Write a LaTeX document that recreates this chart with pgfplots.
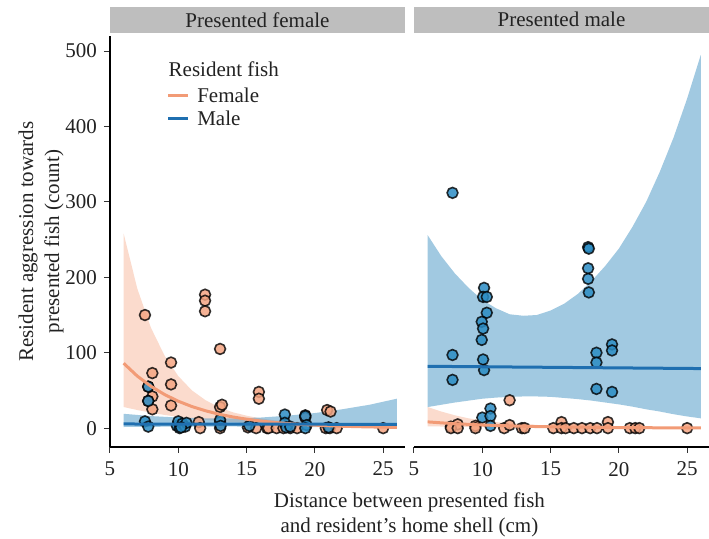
\documentclass[border=0pt]{standalone}
\usepackage{fontspec}
\setmainfont{Liberation Serif}
\usepackage{pgfplots}
\pgfplotsset{compat=1.18}
\definecolor{fem}{HTML}{F4A582}
\definecolor{femline}{HTML}{F29B76}
\definecolor{mal}{HTML}{1F6FB0}
\definecolor{malband}{HTML}{4393C3}
\definecolor{malpt}{HTML}{2B8CC4}
\definecolor{stripgrey}{HTML}{BEBEBE}
\definecolor{txt}{HTML}{222222}

\pgfplotsset{panel/.style={
  scale only axis, width=147.5pt, height=205.5pt,
  xmin=5, xmax=26.6, ymin=-25, ymax=520,
  clip mode=individual,
  xtick={5,10,15,20,25}, ytick={0,100,200,300,400,500},
  tick align=outside, major tick length=3pt,
  tick style={black!80, line width=0.5pt},
  /pgf/number format/assume math mode=true,
  tick label style={font=\fontsize{10.5}{12}\selectfont, text=txt},
  axis line style={line width=1pt, black},
  xticklabel style={yshift=-1pt},
},
fpts/.style={only marks, mark=*, mark size=2.7pt, forget plot,
  mark options={draw=black, draw opacity=0.8, fill=fem, fill opacity=0.85, line width=0.8pt}},
mpts/.style={only marks, mark=*, mark size=2.7pt, forget plot,
  mark options={draw=black, draw opacity=0.8, fill=malpt, fill opacity=0.85, line width=0.8pt}},
fband/.style={fill=fem, fill opacity=0.4, draw=none, forget plot},
mband/.style={fill=malband, fill opacity=0.5, draw=none, forget plot},
fline/.style={femline, line width=1.5pt, forget plot, no marks},
mline/.style={mal, line width=1.5pt, forget plot, no marks},
}

\begin{document}
\begin{tikzpicture}
\path[use as bounding box] (-55pt,-46pt) rectangle (299.5pt,223.5pt);

% ---------------- Presented female ----------------
\begin{axis}[panel, at={(0pt,0pt)}, anchor=south west,
  axis x line*=bottom, axis y line*=left,
  ylabel={Resident aggression towards\\presented fish (count)},
  ylabel style={at={(axis description cs:-0.234,0.5)}, anchor=center, align=center,
    font=\fontsize{10.5}{13}\selectfont, text=txt},
]
% female band
\addplot[fband] coordinates {
(6,258) (7,185) (8,133) (9,96) (10,69) (11,50) (12,37) (13,27.5) (14,21) (15,16.5) (16,13)
(17,10.5) (18,8.5) (19,7) (20,5.8) (21,4.8) (22,4) (23,3.3) (24,2.8) (25,2.3) (26,2.0)
(26,0.8) (25,1.0) (24,1.2) (23,1.5) (22,1.8) (21,2.2) (20,2.7) (19,3.3) (18,4) (17,4.8)
(16,5.7) (15,6.8) (14,8) (13,9.4) (12,11) (11,12.8) (10,15) (9,17.5) (8,20.5) (7,24) (6,28)};
% male band
\addplot[mband] coordinates {
(6,19) (8,16) (10,14) (12,13) (14,13) (16,14) (18,16.5) (20,20) (22,25) (24,31) (26,39)
(26,0.6) (22,1.0) (18,1.8) (14,2.2) (10,2) (6,1.5)};
% female points
\addplot[fpts] table {
x y
7.56 150
11.96 177
11.96 169
11.96 155
13.06 105
9.47 87
8.1 73
9.47 58
7.8 55
8.1 42
7.8 36
9.47 30
8.1 25
13.06 28
13.2 31
15.9 48
15.9 39
20.9 24
21.15 22
19.3 17
19.3 14
11.5 8
11.6 0
13.06 8
13.06 0
15.1 1
15.7 0
16.5 0
16.6 0
17.2 0
17.7 0
18.2 0
18.7 0
20.8 0
21.1 0
21.6 0
25.0 0
};
% male points
\addplot[mpts] table {
x y
7.56 9
7.8 2
7.8 55
7.8 36
9.9 3
10.0 9
10.1 0
10.3 6
10.5 2
10.6 7
10.2 1
13.06 11
13.1 3
15.2 3
17.8 18
17.8 7
17.9 1
18.2 2
19.3 16
19.4 4
19.3 0
21.0 1
};
% fitted lines
\addplot[fline] coordinates {
(6,86) (7,69) (8,55.5) (9,44.5) (10,35.7) (11,28.6) (12,23) (13,18.4) (14,14.8) (15,11.9)
(16,9.5) (17,7.6) (18,6.1) (19,4.9) (20,3.95) (21,3.2) (22,2.5) (23,2.0) (24,1.6) (25,1.3) (26,1.05)};
\addplot[mline] coordinates {(6,5.5) (16,5.3) (26,5.0)};

% strip
\node[fill=stripgrey, minimum width=147.5pt, minimum height=13pt, inner sep=0pt, anchor=south,
  font=\fontsize{10.5}{12}\selectfont, text=txt]
  at (axis description cs:0.5,1.007) {Presented female};
% legend
\node[anchor=west, font=\fontsize{10.5}{12}\selectfont, text=txt] at (axis description cs:0.175,0.92) {Resident fish};
\draw[femline, line width=1.5pt] (axis description cs:0.197,0.856) -- (axis description cs:0.265,0.856);
\node[anchor=west, font=\fontsize{10.5}{12}\selectfont, text=txt] at (axis description cs:0.272,0.856) {Female};
\draw[mal, line width=1.5pt] (axis description cs:0.197,0.8) -- (axis description cs:0.265,0.8);
\node[anchor=west, font=\fontsize{10.5}{12}\selectfont, text=txt] at (axis description cs:0.272,0.8) {Male};
% x label
\node[anchor=north, align=center, font=\fontsize{10.5}{12.5}\selectfont, text=txt]
  at (axis description cs:1.015,-0.095) 
  {Distance between presented fish\\and resident’s home shell (cm)};
\end{axis}

% ---------------- Presented male ----------------
\begin{axis}[panel, at={(152pt,0pt)}, anchor=south west,
  axis x line*=bottom, axis y line=none, ytick=\empty,
]
\addplot[fband] coordinates {
(6,28) (7,22) (8,17) (9,13) (10,10) (11,8) (12,6.5) (13,5.2) (14,4.2) (15,3.5) (16,2.9)
(17,2.4) (18,2.0) (19,1.7) (20,1.4) (22,1.0) (24,0.75) (26,0.55)
(26,0.1) (22,0.2) (18,0.4) (14,0.7) (12,0.9) (10,1.2) (8,1.8) (6,2.5)};
\addplot[mband] coordinates {
(6,256) (7,228) (8,205) (9,186) (10,170) (11,159) (12,151) (13,149) (14,150) (15,156) (16,165)
(17,178) (18,195) (19,215) (20,238) (21,267) (22,300) (23,340) (24,385) (25,437) (26,495)
(26,13) (25,15.5) (24,18.5) (23,22) (22,25) (21,28.5) (20,31.5) (19,34) (18,36.5) (17,38.5)
(16,40) (15,41.5) (14,42) (13,42) (12,41.5) (11,40.5) (10,39) (9,36.5) (8,34) (7,31) (6,28)};
\addplot[fpts] table {
x y
7.7 2
8.2 5
7.7 0
8.2 0
9.5 3
9.5 0
11.6 0
12.0 4
12.0 37
12.9 0
13.1 0
15.2 0
15.8 8
15.8 0
16.1 0
16.7 0
17.3 0
17.9 0
18.4 0
19.2 8
19.2 0
20.8 0
21.2 0
21.5 0
25.0 0
};
\addplot[mpts] table {
x y
7.82 312
7.82 97
7.82 64
10.13 186
10.06 174
10.33 174
10.33 153
9.96 141
10.06 132
9.96 117
10.06 91
10.13 77
17.75 240
17.8 238
17.75 212
17.75 198
17.8 180
18.36 100
18.36 87
19.5 111
19.5 103
18.36 52
19.5 48
10.6 26
10.0 14
10.6 16
10.6 3
};
\addplot[fline] coordinates {
(6,8.3) (7,7.0) (8,5.9) (9,5.0) (10,4.2) (11,3.55) (12,3.0) (13,2.5) (14,2.1) (15,1.8)
(16,1.5) (17,1.3) (18,1.1) (19,0.9) (20,0.77) (22,0.55) (24,0.39) (26,0.28)};
\addplot[mline] coordinates {(6,82) (16,80.5) (26,79)};
\node[fill=stripgrey, minimum width=147.5pt, minimum height=13pt, inner sep=0pt, anchor=south,
  font=\fontsize{10.5}{12}\selectfont, text=txt]
  at (axis description cs:0.5,1.007) {Presented male};
\end{axis}
\end{tikzpicture}
\end{document}
